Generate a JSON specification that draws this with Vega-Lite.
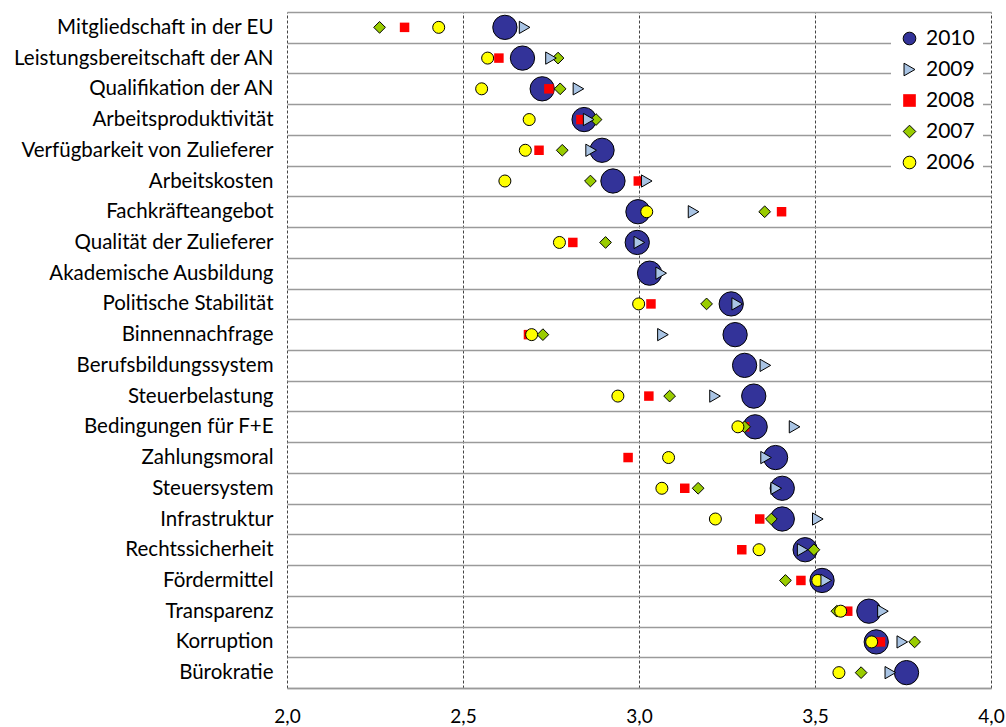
{
  "$schema": "https://vega.github.io/schema/vega-lite/v6.json",
  "width": 704,
  "height": 676,
  "autosize": "none",
  "padding": {"left": 287, "top": 12, "right": 15, "bottom": 39},
  "background": "white",
  "config": {"view": {"stroke": null}, "font": "Lato"},
  "data": {
    "values": [
      {"item": "Mitgliedschaft in der EU", "year": "2010", "value": 2.619},
      {"item": "Leistungsbereitschaft der AN", "year": "2010", "value": 2.669},
      {"item": "Qualifikation der AN", "year": "2010", "value": 2.725},
      {"item": "Arbeitsproduktivität ", "year": "2010", "value": 2.844},
      {"item": "Verfügbarkeit von Zulieferer", "year": "2010", "value": 2.895},
      {"item": "Arbeitskosten", "year": "2010", "value": 2.926},
      {"item": "Fachkräfteangebot", "year": "2010", "value": 2.997},
      {"item": "Qualität der Zulieferer", "year": "2010", "value": 2.995},
      {"item": "Akademische Ausbildung", "year": "2010", "value": 3.03},
      {"item": "Politische Stabilität", "year": "2010", "value": 3.262},
      {"item": "Binnennachfrage", "year": "2010", "value": 3.273},
      {"item": "Berufsbildungssystem ", "year": "2010", "value": 3.3},
      {"item": "Steuerbelastung", "year": "2010", "value": 3.326},
      {"item": "Bedingungen für F+E", "year": "2010", "value": 3.33},
      {"item": "Zahlungsmoral", "year": "2010", "value": 3.388},
      {"item": "Steuersystem", "year": "2010", "value": 3.407},
      {"item": "Infrastruktur", "year": "2010", "value": 3.407},
      {"item": "Rechtssicherheit", "year": "2010", "value": 3.472},
      {"item": "Fördermittel", "year": "2010", "value": 3.52},
      {"item": "Transparenz", "year": "2010", "value": 3.653},
      {"item": "Korruption", "year": "2010", "value": 3.674},
      {"item": "Bürokratie", "year": "2010", "value": 3.76},

      {"item": "Mitgliedschaft in der EU", "year": "2008", "value": 2.334},
      {"item": "Leistungsbereitschaft der AN", "year": "2008", "value": 2.602},
      {"item": "Qualifikation der AN", "year": "2008", "value": 2.744},
      {"item": "Arbeitsproduktivität ", "year": "2008", "value": 2.835},
      {"item": "Verfügbarkeit von Zulieferer", "year": "2008", "value": 2.716},
      {"item": "Arbeitskosten", "year": "2008", "value": 2.998},
      {"item": "Fachkräfteangebot", "year": "2008", "value": 3.405},
      {"item": "Qualität der Zulieferer", "year": "2008", "value": 2.812},
      {"item": "Politische Stabilität", "year": "2008", "value": 3.034},
      {"item": "Binnennachfrage", "year": "2008", "value": 2.686},
      {"item": "Steuerbelastung", "year": "2008", "value": 3.028},
      {"item": "Bedingungen für F+E", "year": "2008", "value": 3.3},
      {"item": "Zahlungsmoral", "year": "2008", "value": 2.969},
      {"item": "Steuersystem", "year": "2008", "value": 3.13},
      {"item": "Infrastruktur", "year": "2008", "value": 3.343},
      {"item": "Rechtssicherheit", "year": "2008", "value": 3.292},
      {"item": "Fördermittel", "year": "2008", "value": 3.46},
      {"item": "Transparenz", "year": "2008", "value": 3.593},
      {"item": "Korruption", "year": "2008", "value": 3.686},

      {"item": "Mitgliedschaft in der EU", "year": "2007", "value": 2.263},
      {"item": "Leistungsbereitschaft der AN", "year": "2007", "value": 2.77},
      {"item": "Qualifikation der AN", "year": "2007", "value": 2.776},
      {"item": "Arbeitsproduktivität ", "year": "2007", "value": 2.878},
      {"item": "Verfügbarkeit von Zulieferer", "year": "2007", "value": 2.782},
      {"item": "Arbeitskosten", "year": "2007", "value": 2.862},
      {"item": "Fachkräfteangebot", "year": "2007", "value": 3.357},
      {"item": "Qualität der Zulieferer", "year": "2007", "value": 2.905},
      {"item": "Politische Stabilität", "year": "2007", "value": 3.192},
      {"item": "Binnennachfrage", "year": "2007", "value": 2.727},
      {"item": "Steuerbelastung", "year": "2007", "value": 3.087},
      {"item": "Bedingungen für F+E", "year": "2007", "value": 3.3},
      {"item": "Steuersystem", "year": "2007", "value": 3.168},
      {"item": "Infrastruktur", "year": "2007", "value": 3.376},
      {"item": "Rechtssicherheit", "year": "2007", "value": 3.497},
      {"item": "Fördermittel", "year": "2007", "value": 3.416},
      {"item": "Transparenz", "year": "2007", "value": 3.562},
      {"item": "Korruption", "year": "2007", "value": 3.783},
      {"item": "Bürokratie", "year": "2007", "value": 3.631},

      {"item": "Mitgliedschaft in der EU", "year": "2006", "value": 2.431},
      {"item": "Leistungsbereitschaft der AN", "year": "2006", "value": 2.57},
      {"item": "Qualifikation der AN", "year": "2006", "value": 2.553},
      {"item": "Arbeitsproduktivität ", "year": "2006", "value": 2.688},
      {"item": "Verfügbarkeit von Zulieferer", "year": "2006", "value": 2.677},
      {"item": "Arbeitskosten", "year": "2006", "value": 2.619},
      {"item": "Fachkräfteangebot", "year": "2006", "value": 3.022},
      {"item": "Qualität der Zulieferer", "year": "2006", "value": 2.774},
      {"item": "Politische Stabilität", "year": "2006", "value": 2.999},
      {"item": "Binnennachfrage", "year": "2006", "value": 2.695},
      {"item": "Steuerbelastung", "year": "2006", "value": 2.94},
      {"item": "Bedingungen für F+E", "year": "2006", "value": 3.281},
      {"item": "Zahlungsmoral", "year": "2006", "value": 3.084},
      {"item": "Steuersystem", "year": "2006", "value": 3.065},
      {"item": "Infrastruktur", "year": "2006", "value": 3.217},
      {"item": "Rechtssicherheit", "year": "2006", "value": 3.341},
      {"item": "Fördermittel", "year": "2006", "value": 3.508},
      {"item": "Transparenz", "year": "2006", "value": 3.573},
      {"item": "Korruption", "year": "2006", "value": 3.661},
      {"item": "Bürokratie", "year": "2006", "value": 3.568},

      {"item": "Mitgliedschaft in der EU", "year": "2009", "value": 2.675},
      {"item": "Leistungsbereitschaft der AN", "year": "2009", "value": 2.75},
      {"item": "Qualifikation der AN", "year": "2009", "value": 2.828},
      {"item": "Arbeitsproduktivität ", "year": "2009", "value": 2.857},
      {"item": "Verfügbarkeit von Zulieferer", "year": "2009", "value": 2.864},
      {"item": "Arbeitskosten", "year": "2009", "value": 3.022},
      {"item": "Fachkräfteangebot", "year": "2009", "value": 3.155},
      {"item": "Qualität der Zulieferer", "year": "2009", "value": 3.001},
      {"item": "Akademische Ausbildung", "year": "2009", "value": 3.063},
      {"item": "Politische Stabilität", "year": "2009", "value": 3.279},
      {"item": "Binnennachfrage", "year": "2009", "value": 3.068},
      {"item": "Berufsbildungssystem ", "year": "2009", "value": 3.359},
      {"item": "Steuerbelastung", "year": "2009", "value": 3.216},
      {"item": "Bedingungen für F+E", "year": "2009", "value": 3.442},
      {"item": "Zahlungsmoral", "year": "2009", "value": 3.361},
      {"item": "Steuersystem", "year": "2009", "value": 3.39},
      {"item": "Infrastruktur", "year": "2009", "value": 3.508},
      {"item": "Rechtssicherheit", "year": "2009", "value": 3.465},
      {"item": "Fördermittel", "year": "2009", "value": 3.532},
      {"item": "Transparenz", "year": "2009", "value": 3.693},
      {"item": "Korruption", "year": "2009", "value": 3.748},
      {"item": "Bürokratie", "year": "2009", "value": 3.714}
    ]
  },
  "encoding": {
    "y": {
      "field": "item",
      "type": "nominal",
      "sort": ["Mitgliedschaft in der EU", "Leistungsbereitschaft der AN", "Qualifikation der AN", "Arbeitsproduktivität ", "Verfügbarkeit von Zulieferer", "Arbeitskosten", "Fachkräfteangebot", "Qualität der Zulieferer", "Akademische Ausbildung", "Politische Stabilität", "Binnennachfrage", "Berufsbildungssystem ", "Steuerbelastung", "Bedingungen für F+E", "Zahlungsmoral", "Steuersystem", "Infrastruktur", "Rechtssicherheit", "Fördermittel", "Transparenz", "Korruption", "Bürokratie"],
      "scale": {"type": "band", "paddingInner": 0, "paddingOuter": 0},
      "axis": {
        "title": null,
        "tickBand": "extent",
        "ticks": false,
        "domain": false,
        "grid": true,
        "gridColor": "#9a9a9a",
        "gridWidth": 1.5,
        "labelFontSize": 20.5,
        "labelColor": "black",
        "labelPadding": 14,
        "labelLimit": 300
      }
    },
    "x": {
      "field": "value",
      "type": "quantitative",
      "scale": {"domain": [2, 4], "nice": false, "zero": false},
      "axis": {
        "title": null,
        "values": [2, 2.5, 3, 3.5, 4],
        "labelExpr": "replace(format(datum.value, '.1f'), '.', ',')",
        "grid": true,
        "gridDash": [3, 2],
        "gridColor": "#444444",
        "gridWidth": 1,
        "ticks": false,
        "domain": true,
        "domainColor": "#9a9a9a",
        "domainWidth": 1.5,
        "labelFontSize": 19,
        "labelPadding": 19,
        "labelColor": "black",
        "labelFlush": false
      }
    },
    "fill": {
      "field": "year",
      "type": "nominal",
      "scale": {"domain": ["2010", "2009", "2008", "2007", "2006"], "range": ["#333399", "#a9c4e4", "#ff0000", "#99cc00", "#ffff00"]},
      "legend": {
        "title": null,
        "orient": "top-right",
        "offset": 8,
        "fillColor": "white",
        "padding": 8,
        "labelFontSize": 21,
        "labelColor": "black",
        "symbolSize": 160,
        "symbolStrokeWidth": 1,
        "rowPadding": 9,
        "labelOffset": 6,
        "encode": {
          "symbols": {
            "shape": {"value": {"expr": "datum.label === '2009' ? 'triangle-up' : datum.label === '2008' ? 'square' : datum.label === '2007' ? 'diamond' : 'circle'"}}
          }
        }
      }
    },
    "shape": {
      "field": "year",
      "type": "nominal",
      "scale": {"domain": ["2010", "2009", "2008", "2007", "2006"], "range": ["circle", "triangle-right", "square", "diamond", "circle"]},
      "legend": {
        "title": null,
        "orient": "top-right",
        "offset": 8,
        "fillColor": "white",
        "padding": 8,
        "labelFontSize": 21,
        "labelColor": "black",
        "symbolSize": 160,
        "symbolStrokeWidth": 1,
        "rowPadding": 9,
        "labelOffset": 6,
        "encode": {
          "symbols": {
            "shape": {"value": {"expr": "datum.label === '2009' ? 'triangle-up' : datum.label === '2008' ? 'square' : datum.label === '2007' ? 'diamond' : 'circle'"}}
          }
        }
      }
    },
    "stroke": {
      "field": "year",
      "type": "nominal",
      "scale": {"domain": ["2010", "2009", "2008", "2007", "2006"], "range": ["#000000", "#000000", "transparent", "#000000", "#000000"]}
    }
  },
  "layer": [
    {"transform": [{"filter": "datum.year === '2010'"}], "mark": {"type": "point", "filled": true, "strokeWidth": 1, "opacity": 1, "size": 590}},
    {"transform": [{"filter": "datum.year === '2008'"}], "mark": {"type": "point", "filled": true, "strokeWidth": 1, "opacity": 1, "size": 90}},
    {"transform": [{"filter": "datum.year === '2007'"}], "mark": {"type": "point", "filled": true, "strokeWidth": 1, "opacity": 1, "size": 137}},
    {"transform": [{"filter": "datum.year === '2006'"}], "mark": {"type": "point", "filled": true, "strokeWidth": 1, "opacity": 1, "size": 144}},
    {"transform": [{"filter": "datum.year === '2009'"}], "mark": {"type": "point", "filled": true, "strokeWidth": 1, "opacity": 1, "size": 150}}
  ]
}
